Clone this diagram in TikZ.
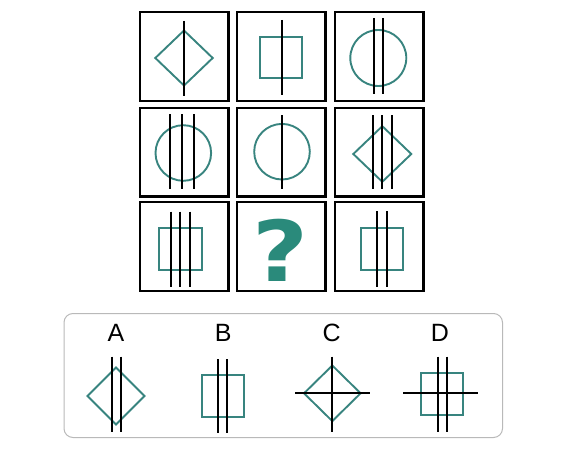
\documentclass[tikz,border=0pt]{standalone}
\usepackage{fontspec}
\setmainfont{Liberation Sans}
\newfontfamily\markfont{DejaVu Sans}
\definecolor{shapeteal}{HTML}{38847F}
\definecolor{markteal}{HTML}{2A8A7B}
\begin{document}
\begin{tikzpicture}[x=1pt,y=-1pt,
		frame/.style={line width=2.4pt},
		bar/.style={line width=2.2pt},
		figure/.style={draw=shapeteal, line width=1.9pt, line join=miter}]
		\useasboundingbox (0,0) rectangle (564,452);
		
		% Grid frames
		\foreach \cx in {184,281,379}
			\foreach \cy in {56.5,152,246.5}
				\draw[frame] (\cx-44.3,\cy-44.3) rectangle (\cx+44.3,\cy+44.3);
		
		% Row 1
		\draw[figure] (184,30.5) -- (212.7,58) -- (184,85.5) -- (155.3,58) -- cycle;
		\draw[bar] (184,21) -- (184,96);
		\draw[figure] (260,36.7) rectangle (302.3,78.3);
		\draw[bar] (281.7,20) -- (281.7,95);
		\draw[figure] (378.3,58) circle (28);
		\draw[bar] (374.3,18) -- (374.3,94);
		\draw[bar] (382.7,18) -- (382.7,94);
		
		% Row 2
		\draw[figure] (183.3,153) circle (27.8);
		\foreach \x in {170,182.3,194}
			\draw[bar] (\x,114) -- (\x,189);
		\draw[figure] (282,151.7) circle (27.8);
		\draw[bar] (282,115) -- (282,189);
		\draw[figure] (382.3,126.2) -- (411.3,154) -- (382.3,181.8) -- (353.3,154) -- cycle;
		\foreach \x in {373.3,382.3,391.7}
			\draw[bar] (\x,115) -- (\x,189);
		
		% Row 3
		\draw[figure] (159.3,227.7) rectangle (201.7,270);
		\foreach \x in {171,180.3,190}
			\draw[bar] (\x,211.7) -- (\x,286.7);
		\node[text=markteal, font=\markfont\bfseries\fontsize{84}{84}\selectfont, inner sep=0pt, xscale=1.15] (qmark) at (281,250) {?};
		\draw[figure] (360.7,227.7) rectangle (403.3,270);
		\foreach \x in {377.3,386.7}
			\draw[bar] (\x,211) -- (\x,286.7);
		
		% Answer panel
		\draw[gray!55, line width=1pt, rounded corners=9pt] (64,313.5) rectangle (502.5,437.5);
		\foreach \lab/\x in {A/116,B/223.3,C/331.7,D/440}
			\node[font=\fontsize{25}{25}\selectfont, inner sep=0pt] (lab\lab) at (\x,333) {\lab};
		
		% A
		\draw[figure] (116,367.5) -- (144.5,396) -- (116,424.5) -- (87.5,396) -- cycle;
		\draw[bar] (111.7,356.7) -- (111.7,431.7);
		\draw[bar] (120.7,356.7) -- (120.7,431.7);
		% B
		\draw[figure] (202.3,375) rectangle (244,416.7);
		\draw[bar] (218.3,359.3) -- (218.3,433.3);
		\draw[bar] (227.3,359.3) -- (227.3,433.3);
		% C
		\draw[figure] (332.3,365.5) -- (360.6,393.3) -- (332.3,421.1) -- (304,393.3) -- cycle;
		\draw[bar] (332.3,356.7) -- (332.3,431.7);
		\draw[bar] (295,393.3) -- (370,393.3);
		% D
		\draw[figure] (421,372.7) rectangle (463.3,415);
		\draw[bar] (437.7,356.7) -- (437.7,431.7);
		\draw[bar] (446.7,356.7) -- (446.7,431.7);
		\draw[bar] (403.3,392.7) -- (477.7,392.7);
	\end{tikzpicture}
\end{document}
